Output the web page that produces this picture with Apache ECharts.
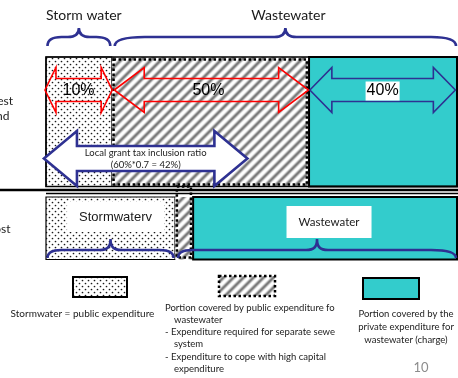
<!DOCTYPE html>
<html>
<head>
<meta charset="utf-8">
<script src="https://cdn.jsdelivr.net/npm/echarts@6/dist/echarts.min.js"></script>
<style>
  html, body { margin: 0; padding: 0; background: #fff; }
  #chart { width: 458px; height: 378px; }
</style>
</head>
<body>
<div id="chart"></div>
<script>
// ---- Cost sharing scheme: storm water vs. wastewater ----
const groupTitles   = ['Storm water', 'Wastewater'];
const segmentKinds  = ['storm', 'public', 'private'];
const upperWidths   = [16, 48, 36];        // schematic widths, upper bar (0..100)
const lowerWidths   = [31.4, 4.4, 64.2];   // schematic widths, lower bar (0..100)
const shareValues   = [10, 50, 40];        // % shown on the upper arrows
const grantRatio    = [60, 0.7, 42];       // 60% * 0.7 = 42%
const grantSpan     = [-0.5, 49];          // extent of the grant arrow (diagram units)
const grantCaption  = 'Local grant tax inclusion ratio';
const lowerLabels   = ['Stormwaterv', 'Wastewater'];
const sideLabels    = ['Interest', 'and', 'Cost'];
const legendLabels  = [
  ['Stormwater = public expenditure'],
  ['Portion covered by public expenditure fo', 'wastewater', '- Expenditure required for separate sewe', 'system',
   '- Expenditure to cope with high capital', 'expenditure'],
  ['Portion covered by the', 'private expenditure for', 'wastewater (charge)']
];
const pageNumber = '10';

// ---- styling ----
const COL = { navy: '#2E3192', red: '#FF0000', teal: '#33CCCC', ink: '#000' };
const SANS = 'Lato, "Open Sans", sans-serif';
const ARIAL = '"Liberation Sans", Arial, sans-serif';
const ROWS = [{ top: 57, bottom: 186.5 }, { top: 197, bottom: 259.5 }];

function makeDots() {
  const c = document.createElement('canvas');
  c.width = 6; c.height = 6;
  const ctx = c.getContext('2d');
  ctx.fillStyle = '#fff'; ctx.fillRect(0, 0, 6, 6);
  ctx.fillStyle = '#1a1a1a';
  ctx.beginPath(); ctx.arc(1.5, 1.5, 0.85, 0, Math.PI * 2); ctx.fill();
  ctx.beginPath(); ctx.arc(4.5, 4.5, 0.85, 0, Math.PI * 2); ctx.fill();
  return c;
}
function makeHatch() {
  const n = 10, c = document.createElement('canvas');
  c.width = c.height = n;
  const ctx = c.getContext('2d');
  const img = ctx.createImageData(n, n);
  for (let y = 0; y < n; y++) {
    for (let x = 0; x < n; x++) {
      const t = ((x + y) % n) / n;
      const v = 0.5 + 0.5 * Math.cos(2 * Math.PI * t);
      const g = Math.round(255 - 135 * Math.pow(v, 1.6));
      const i = (y * n + x) * 4;
      img.data[i] = img.data[i + 1] = img.data[i + 2] = g;
      img.data[i + 3] = 255;
    }
  }
  ctx.putImageData(img, 0, 0);
  return c;
}
const dotFill = { image: makeDots(), repeat: 'repeat' };
const hatchFill = { image: makeHatch(), repeat: 'repeat' };

function stack(widths, row) {
  let acc = 0;
  return widths.map((w, k) => { const d = [acc, acc + w, row, k]; acc += w; return d; });
}
const upperSegs = stack(upperWidths, 0);
const lowerSegs = stack(lowerWidths, 1);
const segmentData = upperSegs.concat(lowerSegs);

const X = (api, v) => api.coord([v, 0])[0];
const Y = (api, v) => api.coord([0, v])[1];

function dottedRect(x0, y0, x1, y1) {
  return {
    type: 'rect', shape: { x: x0, y: y0, width: x1 - x0, height: y1 - y0 },
    style: { fill: null, stroke: COL.ink, lineWidth: 2.5, lineDash: [2.5, 2.5], lineCap: 'butt' }
  };
}

function renderSegment(params, api) {
  const row = api.value(2);
  const x0 = X(api, api.value(0)), x1 = X(api, api.value(1));
  const y0 = Y(api, ROWS[row].top), y1 = Y(api, ROWS[row].bottom);
  const shape = { x: x0, y: y0, width: x1 - x0, height: y1 - y0 };
  const kind = segmentKinds[api.value(3)];
  if (kind === 'storm') {
    return { type: 'rect', shape, style: { fill: dotFill, stroke: COL.ink, lineWidth: 1.2 } };
  }
  if (kind === 'private') {
    return { type: 'rect', shape, style: { fill: COL.teal, stroke: COL.ink, lineWidth: 2 } };
  }
  const top = row === 1 ? Y(api, ROWS[0].bottom) : y0 + 2.5;
  return {
    type: 'group', children: [
      { type: 'rect', shape, style: { fill: hatchFill } },
      dottedRect(x0 + 1.8, top, x1 - 2.2, y1 - 2)
    ]
  };
}

function renderFrame(params, api) {
  const x0 = X(api, 0), x1 = X(api, upperWidths.reduce((a, b) => a + b, 0));
  const w = api.getWidth();
  return {
    type: 'group', children: [
      { type: 'rect', shape: { x: x0, y: Y(api, ROWS[0].top), width: x1 - x0, height: ROWS[0].bottom - ROWS[0].top },
        style: { fill: null, stroke: COL.ink, lineWidth: 1.5 } },
      { type: 'line', shape: { x1: 0, y1: 190, x2: w, y2: 190 }, style: { stroke: COL.ink, lineWidth: 2.5 } },
      { type: 'line', shape: { x1: x0, y1: 193.5, x2: w, y2: 193.5 }, style: { stroke: COL.ink, lineWidth: 1.5 } }
    ]
  };
}

function arrowPoints(xa, xb, cy, head, headHalf, shaftHalf) {
  return [
    [xa, cy], [xa + head, cy - headHalf], [xa + head, cy - shaftHalf],
    [xb - head, cy - shaftHalf], [xb - head, cy - headHalf], [xb, cy],
    [xb - head, cy + headHalf], [xb - head, cy + shaftHalf],
    [xa + head, cy + shaftHalf], [xa + head, cy + headHalf]
  ];
}

// upper arrows: one per upper segment, plus the grant arrow
const ARROW_STYLE = {
  storm:   { color: COL.red,  head: 11, pad: [-0.25, -0.1] },
  public:  { color: COL.red,  head: 30, pad: [0.6, 0.1] },
  private: { color: COL.navy, head: 22, pad: [0.2, 0.4] }
};
const shareArrowData = upperSegs.map((s, k) => [s[0], s[1], k, shareValues[k]]);

function renderShareArrow(params, api) {
  const kind = segmentKinds[api.value(2)];
  const st = ARROW_STYLE[kind];
  const xa = X(api, api.value(0) + st.pad[0]), xb = X(api, api.value(1) - st.pad[1]);
  const cy = 90;
  const label = api.value(3) + '%';
  return {
    type: 'group', children: [
      { type: 'polygon', shape: { points: arrowPoints(xa, xb, cy, st.head, 22.5, 11.5) },
        style: { fill: null, stroke: st.color, lineWidth: 1.6 } },
      { type: 'text', x: (xa + xb) / 2 + (kind === 'public' ? -3 : 0), y: cy + 1,
        style: { text: label, font: '16px ' + ARIAL, fill: '#000', align: 'center', verticalAlign: 'middle',
                 backgroundColor: kind === 'private' ? '#fff' : null, padding: kind === 'private' ? [2, 1, 1, 1] : 0 } }
    ]
  };
}

function renderGrantArrow(params, api) {
  const xa = X(api, api.value(0)), xb = X(api, api.value(1));
  const cy = 158.5, cx = (xa + xb) / 2;
  return {
    type: 'group', children: [
      { type: 'polygon', shape: { points: arrowPoints(xa, xb, cy, 33, 27.5, 12.5) },
        style: { fill: '#fff', stroke: COL.navy, lineWidth: 2.6 } },
      { type: 'text', x: cx, y: 152.5,
        style: { text: grantCaption, font: '9.5px ' + SANS, fill: '#222', align: 'center', verticalAlign: 'middle' } },
      { type: 'text', x: cx, y: 165,
        style: { text: '(' + grantRatio[0] + '%*' + grantRatio[1] + ' = ' + grantRatio[2] + '%)',
                 font: '9.5px ' + SANS, fill: '#222', align: 'center', verticalAlign: 'middle' } }
    ]
  };
}

// curly braces: storm water over the first segment, wastewater over the rest
function braceData(segs, row) {
  return [[segs[0][0], segs[0][1], row, 0], [segs[1][0], segs[2][1], row, 1]];
}
const BRACE = [
  { end: 46, flat: 37, tip: 28 },
  { end: 258, flat: 250, tip: 239 }
];
function bracePath(xa, xb, xt, b, rl, rr) {
  const r = 11;
  return 'M' + xa + ',' + b.end +
    ' C' + xa + ',' + (b.flat + 2) + ' ' + (xa + rl * 0.4) + ',' + b.flat + ' ' + (xa + rl) + ',' + b.flat +
    ' L' + (xt - r) + ',' + b.flat +
    ' C' + (xt - 3) + ',' + b.flat + ' ' + xt + ',' + (b.flat - 3) + ' ' + xt + ',' + b.tip +
    ' C' + xt + ',' + (b.flat - 3) + ' ' + (xt + 3) + ',' + b.flat + ' ' + (xt + r) + ',' + b.flat +
    ' L' + (xb - rr) + ',' + b.flat +
    ' C' + (xb - rr * 0.4) + ',' + b.flat + ' ' + xb + ',' + (b.flat + 2) + ' ' + xb + ',' + b.end;
}
function renderBrace(params, api) {
  const row = api.value(2), which = api.value(3);
  const b = BRACE[row];
  const xa = X(api, api.value(0)) + (which === 1 ? 3 : 1.5);
  const xb = X(api, api.value(1)) - (which === 0 ? 1.5 : 1);
  const xt = (xa + xb) / 2;
  const rl = which === 1 && row === 0 ? 30 : 14;
  const rr = which === 1 ? 25 : 14;
  const children = [{
    type: 'path', shape: { pathData: bracePath(xa, xb, xt, b, rl, rr) },
    style: { fill: null, stroke: COL.navy, lineWidth: 2.6 }
  }];
  if (row === 0) {
    children.push({
      type: 'text', x: which === 0 ? xa - 1.5 : xt + 3, y: 15,
      style: { text: groupTitles[which], font: '14px ' + SANS, fill: '#1a1a1a',
               align: which === 0 ? 'left' : 'center', verticalAlign: 'middle' }
    });
  } else {
    const boxed = which === 0
      ? { x: xt + 5, y: 217, font: '13px ' + ARIAL, pad: [8, 12, 9, 12] }
      : { x: xt + 12, y: 222, font: '11.5px ' + SANS, pad: [10, 12, 10, 12] };
    children.push({
      type: 'text', x: boxed.x, y: boxed.y,
      style: { text: lowerLabels[which], font: boxed.font, fill: '#1a1a1a', align: 'center', verticalAlign: 'middle',
               backgroundColor: '#fff', padding: boxed.pad }
    });
  }
  return { type: 'group', children };
}
const braceSeriesData = braceData(upperSegs, 0).concat(braceData(lowerSegs, 1));

// legend swatches and captions
function legendGraphics() {
  const items = [];
  const boxes = [
    { x: 73, y: 277, w: 54, h: 20, fill: dotFill, kind: 'storm' },
    { x: 219, y: 276, w: 56, h: 20, fill: hatchFill, kind: 'public' },
    { x: 363, y: 278, w: 56, h: 21, fill: COL.teal, kind: 'private' }
  ];
  boxes.forEach(b => {
    items.push({
      type: 'rect', shape: { x: b.x, y: b.y, width: b.w, height: b.h },
      style: b.kind === 'public'
        ? { fill: b.fill, stroke: COL.ink, lineWidth: 2.5, lineDash: [2.5, 2.5] }
        : { fill: b.fill, stroke: COL.ink, lineWidth: 2 }
    });
  });
  items.push({ type: 'text', x: 82.5, y: 314,
    style: { text: legendLabels[0][0], font: '10px ' + SANS, fill: '#222', align: 'center', verticalAlign: 'middle' } });
  legendLabels[1].forEach((t, i) => {
    const indent = t.charAt(0) === '-' || i === 0 ? 0 : 9;
    items.push({ type: 'text', x: 165 + indent, y: 307.5 + i * 12.3,
      style: { text: t, font: '9.5px ' + SANS, fill: '#222', align: 'left', verticalAlign: 'middle' } });
  });
  legendLabels[2].forEach((t, i) => {
    items.push({ type: 'text', x: 406, y: 313.5 + i * 13,
      style: { text: t, font: '9.5px ' + SANS, fill: '#222', align: 'center', verticalAlign: 'middle' } });
  });
  items.push({ type: 'text', x: 421, y: 368,
    style: { text: pageNumber, font: '13px ' + SANS, fill: '#8c8c8c', align: 'center', verticalAlign: 'middle' } });
  // row captions running off the left edge
  [[sideLabels[0], 13, 101], [sideLabels[1], 9.5, 116], [sideLabels[2], 10.5, 229]].forEach(([t, x, y]) => {
    items.push({ type: 'text', x, y,
      style: { text: t, font: '12px ' + SANS, fill: '#222', align: 'right', verticalAlign: 'middle' } });
  });
  return items;
}

const chart = echarts.init(document.getElementById('chart'), null, { renderer: 'canvas' });
chart.setOption({
  animation: false,
  backgroundColor: '#fff',
  grid: { left: 46, right: 1, top: 0, bottom: 0 },
  xAxis: { type: 'value', min: 0, max: 100, show: false },
  yAxis: { type: 'value', min: 0, max: 378, inverse: true, show: false },
  graphic: legendGraphics(),
  series: [
    { type: 'custom', name: 'segments', renderItem: renderSegment, data: segmentData, z: 1 },
    { type: 'custom', name: 'frame', renderItem: renderFrame, data: [[0]], z: 2 },
    { type: 'custom', name: 'shares', renderItem: renderShareArrow, data: shareArrowData, z: 3 },
    { type: 'custom', name: 'grant', renderItem: renderGrantArrow, data: [grantSpan], z: 4 },
    { type: 'custom', name: 'braces', renderItem: renderBrace, data: braceSeriesData, z: 5 }
  ]
});
</script>
</body>
</html>
